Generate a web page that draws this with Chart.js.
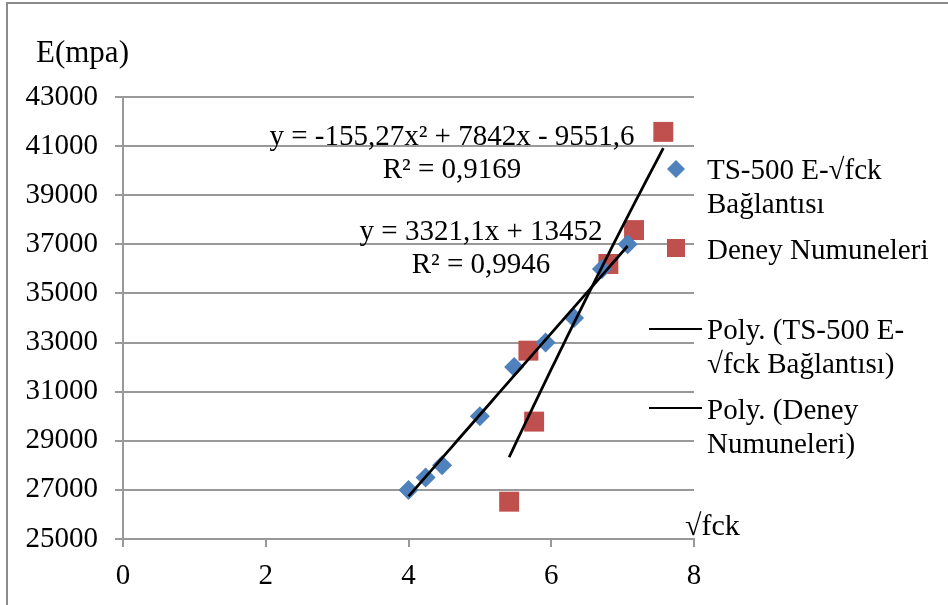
<!DOCTYPE html>
<html><head><meta charset="utf-8">
<script src="https://cdn.jsdelivr.net/npm/chart.js@4/dist/chart.umd.min.js"></script>
<style>
html,body{margin:0;padding:0;background:#fff;overflow:hidden;}
#wrap{position:relative;width:948px;height:605px;overflow:hidden;background:#fff;}
#frame{position:absolute;left:6px;top:2px;width:1000px;height:700px;border:2px solid #8c8c8c;box-sizing:border-box;}
#c{position:absolute;left:0;top:0;}
</style></head><body>
<div id="wrap"><div id="frame"></div><canvas id="c" width="948" height="605"></canvas></div>
<script>
// ---- data ----
const tsX = [4.00, 4.24, 4.47, 5.00, 5.48, 5.92, 6.32, 6.71, 7.07];
const tsE = [27000, 27500, 28000, 30000, 32000, 33000, 34000, 36000, 37000];
const deneyX = [5.41, 5.68, 5.76, 6.80, 7.16, 7.57];
const deneyE = [26520, 32670, 29780, 36200, 37580, 41580];
// trendline coefficients as printed on the chart: [c0, c1, c2]
const tsTrendCoef = [13452, 3321.1, 0];
const deneyTrendCoef = [-9551.6, 7842, -155.27];
const seriesNames = ["TS-500 E-\u221Afck Bağlantısı", "Deney Numuneleri",
  "Poly. (TS-500 E-\u221Afck Bağlantısı)", "Poly. (Deney Numuneleri)"];
const legendLines = [["TS-500 E-\u221Afck", "Bağlantısı"], ["Deney Numuneleri"],
  ["Poly. (TS-500 E-", "\u221Afck Bağlantısı)"], ["Poly. (Deney", "Numuneleri)"]];
const eqTexts = [["y = -155,27x\u00B2 + 7842x - 9551,6", "R\u00B2 = 0,9169"],
  ["y = 3321,1x + 13452", "R\u00B2 = 0,9946"]];
const yAxisTitle = "E(mpa)";
const xAxisTitle = "\u221Afck";
const yMin = 25000, yMax = 43000, yStep = 2000;
const xMin = 0, xMax = 8, xStep = 2;

// ---- build datasets ----
function pts(xs, ys){ return xs.map((x,i)=>({x:x, y:ys[i]})); }
function trend(coef, xs){
  const lo = Math.min(...xs), hi = Math.max(...xs), n = 40, out = [];
  for (let i=0;i<=n;i++){ const x = lo + (hi-lo)*i/n; out.push({x:x, y:coef[0]+coef[1]*x+coef[2]*x*x}); }
  return out;
}
const BLUE = '#4f81bd', RED = '#c0504d', GRID = '#999999';
const FONT = '"Liberation Serif", "Times New Roman", serif';

const textPlugin = {
  id: 'texts',
  afterDraw(chart){
    const ctx = chart.ctx;
    ctx.save();
    ctx.fillStyle = '#000';
    ctx.textBaseline = 'alphabetic';
    // axis titles
    ctx.font = '31px ' + FONT;
    ctx.textAlign = 'left';
    ctx.fillText(yAxisTitle, 36, 62);
    ctx.font = '30px ' + FONT;
    ctx.fillText(xAxisTitle, 685, 535);
    // equations
    ctx.font = '29px ' + FONT;
    ctx.textAlign = 'center';
    ctx.fillText(eqTexts[0][0], 452, 145);
    ctx.fillText(eqTexts[0][1], 452, 178);
    ctx.fillText(eqTexts[1][0], 481, 240);
    ctx.fillText(eqTexts[1][1], 481, 273);
    // legend
    ctx.textAlign = 'left';
    const tx = 707;
    ctx.fillStyle = BLUE;
    ctx.beginPath();
    ctx.moveTo(676-9,169); ctx.lineTo(676,169-9); ctx.lineTo(676+9,169); ctx.lineTo(676,169+9);
    ctx.closePath(); ctx.fill();
    ctx.fillStyle = '#000';
    ctx.fillText(legendLines[0][0], tx, 179);
    ctx.fillText(legendLines[0][1], tx, 213);
    ctx.fillStyle = RED;
    ctx.fillRect(676-9, 248-9, 18, 18);
    ctx.fillStyle = '#000';
    ctx.fillText(legendLines[1][0], tx, 259);
    ctx.strokeStyle = '#000'; ctx.lineWidth = 2;
    ctx.beginPath(); ctx.moveTo(649,329); ctx.lineTo(702,329); ctx.stroke();
    ctx.fillText(legendLines[2][0], tx, 339);
    ctx.fillText(legendLines[2][1], tx, 373);
    ctx.beginPath(); ctx.moveTo(649,408); ctx.lineTo(702,408); ctx.stroke();
    ctx.fillText(legendLines[3][0], tx, 419);
    ctx.fillText(legendLines[3][1], tx, 453);
    ctx.restore();
  }
};

new Chart(document.getElementById('c'), {
  type: 'scatter',
  data: {
    datasets: [
      { label: seriesNames[2], data: trend(tsTrendCoef, tsX), showLine: true, pointRadius: 0,
        borderColor: '#000', borderWidth: 2.75, order: 0, tension: 0 },
      { label: seriesNames[3], data: trend(deneyTrendCoef, deneyX), showLine: true, pointRadius: 0,
        borderColor: '#000', borderWidth: 2.75, order: 0, tension: 0 },
      { label: seriesNames[0], data: pts(tsX, tsE), pointStyle: 'rectRot', pointRadius: 10,
        backgroundColor: BLUE, borderColor: BLUE, borderWidth: 0, order: 1 },
      { label: seriesNames[1], data: pts(deneyX, deneyE), pointStyle: 'rect', pointRadius: 14.1,
        backgroundColor: RED, borderColor: RED, borderWidth: 0, order: 1 }
    ]
  },
  options: {
    responsive: false, animation: false, devicePixelRatio: 1,
    layout: { padding: { left: 0, top: 97, right: 254, bottom: 0 } },
    plugins: { legend: { display: false }, tooltip: { enabled: false } },
    scales: {
      x: {
        type: 'linear', min: xMin, max: xMax,
        ticks: { stepSize: xStep, color: '#000', font: { family: FONT, size: 29 }, padding: 12, maxRotation: 0 },
        grid: { drawOnChartArea: false, drawTicks: true, tickLength: 8, color: GRID, lineWidth: 2 },
        border: { display: true, color: GRID, width: 2 },
        afterFit(s){ s.height = 66; }
      },
      y: {
        type: 'linear', min: yMin, max: yMax,
        ticks: { stepSize: yStep, color: '#000', font: { family: FONT, size: 29 }, padding: 17,
                 callback: v => String(v) },
        grid: { drawTicks: true, tickLength: 8, color: GRID, lineWidth: 2 },
        border: { display: true, color: GRID, width: 2 },
        afterFit(s){ s.width = 123; }
      }
    }
  },
  plugins: [textPlugin]
});
</script>
</body></html>
